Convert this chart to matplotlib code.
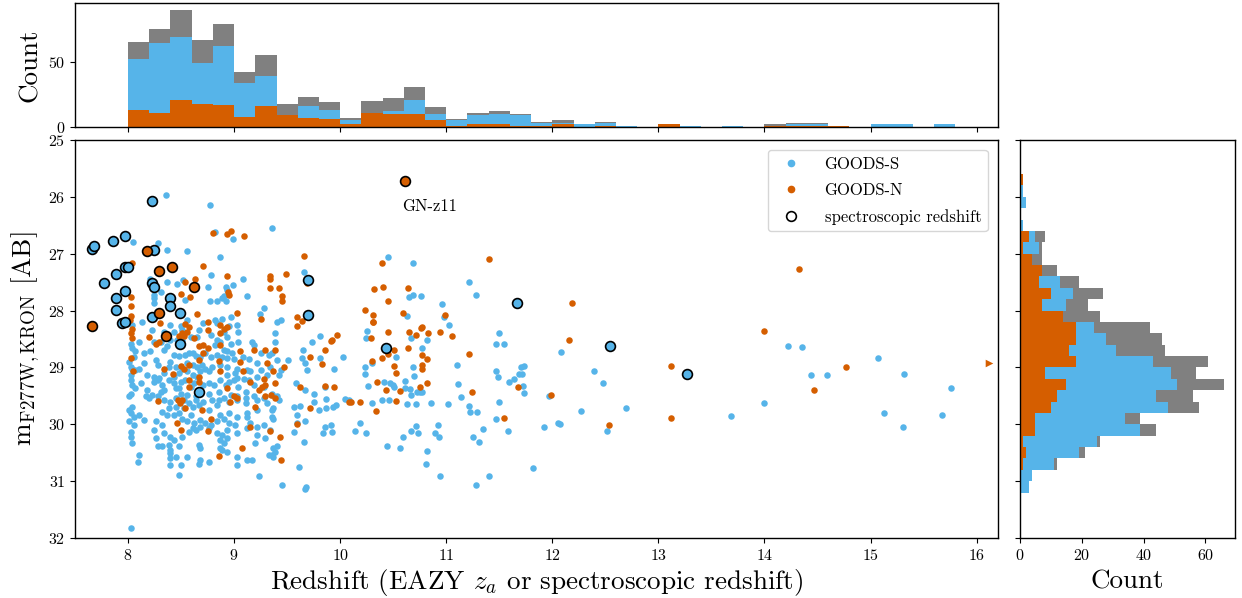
import numpy as np
import matplotlib
matplotlib.use("Agg")
import matplotlib.pyplot as plt
from matplotlib.lines import Line2D

plt.rcParams['font.family'] = 'serif'
plt.rcParams['font.serif'] = ['cmr10']
plt.rcParams['mathtext.fontset'] = 'cm'
plt.rcParams['axes.formatter.use_mathtext'] = True

BLUE = '#56B4E9'
ORANGE = '#D55E00'
GRAY = '#808080'

# photometric GOODS-S candidates (redshift, F277W Kron magnitude)
goods_s = np.array([
    # bright end
    (8.36, 25.97), (8.77, 26.15), (9.36, 26.54), (8.82, 26.62), (8.99, 26.74), (8.05, 26.79),
    (8.28, 26.82), (8.37, 26.93), (8.56, 26.96), (8.87, 27.06), (8.21, 27.44), (8.37, 27.50),
    (8.31, 27.68), (8.46, 27.53), (8.52, 27.46), (8.78, 27.37), (8.75, 27.58), (8.92, 27.58),
    (8.93, 27.64), (8.99, 27.55), (8.90, 27.75), (9.08, 27.45), (9.12, 27.75), (8.89, 27.78),
    (9.66, 27.32), (8.24, 27.78), (8.24, 27.73),
    # z < 10 bulk
    (8.24, 27.87), (8.77, 27.84), (8.84, 27.84), (8.92, 27.84), (9.28, 27.96), (9.24, 28.06),
    (8.54, 27.81), (8.97, 28.11), (8.89, 28.14), (8.82, 28.17), (8.95, 28.27), (9.03, 28.25),
    (9.04, 28.37), (8.90, 28.37), (8.84, 28.22), (8.71, 28.22), (8.56, 28.17), (8.40, 28.25),
    (8.50, 28.27), (8.13, 28.20), (9.40, 28.21), (9.44, 28.17), (8.04, 28.25), (9.39, 28.40),
    (8.23, 28.34), (8.34, 28.37), (8.43, 28.37), (8.51, 28.34), (8.46, 28.51), (8.37, 28.62),
    (8.40, 28.52), (8.51, 28.52), (8.31, 28.55), (8.24, 28.56), (8.10, 28.56), (8.03, 28.58),
    (8.04, 28.66), (8.07, 28.72), (8.59, 28.47), (8.65, 28.46), (8.84, 28.52), (8.93, 28.46),
    (8.97, 28.58), (8.90, 28.69), (8.87, 28.55), (8.82, 28.61), (9.04, 28.55), (9.17, 28.55),
    (9.19, 28.61), (9.39, 28.55), (9.65, 28.69), (9.73, 28.56), (9.81, 28.45), (8.67, 28.34),
    (8.78, 28.43),
    (8.15, 28.75), (8.21, 28.72), (8.34, 28.69), (8.43, 28.78), (8.48, 28.80), (8.54, 28.78),
    (8.57, 28.75), (8.61, 28.74), (8.64, 28.80), (8.68, 28.81), (8.73, 28.75), (8.78, 28.81),
    (8.84, 28.78), (8.89, 28.82), (8.93, 28.84), (9.00, 28.86), (9.08, 28.81), (9.14, 28.86),
    (8.98, 28.75), (8.93, 28.72), (9.25, 28.75), (9.36, 28.75), (9.40, 28.87), (9.51, 28.87),
    (9.64, 28.84), (9.67, 28.93), (9.81, 28.84), (10.03, 28.82), (8.06, 28.81), (8.01, 28.90),
    (8.04, 29.02), (8.26, 28.87), (8.40, 28.90), (9.33, 28.78),
    (8.03, 28.99), (8.07, 29.05), (8.10, 29.02), (8.15, 28.93), (8.28, 28.96), (8.39, 28.99),
    (8.45, 28.99), (8.51, 29.02), (8.56, 28.93), (8.61, 28.96), (8.65, 28.99), (8.70, 28.96),
    (8.73, 29.02), (8.76, 29.07), (8.68, 29.07), (8.79, 28.99), (8.87, 28.96), (8.93, 28.99),
    (9.03, 29.02), (9.12, 29.05), (9.15, 29.07), (9.22, 28.93), (9.25, 29.05), (9.34, 28.99),
    (9.44, 29.05), (9.69, 29.05), (9.94, 29.02), (8.18, 29.13), (8.24, 29.16), (8.29, 29.19),
    (8.34, 29.10), (8.43, 29.16), (8.48, 29.10), (8.56, 29.07), (8.61, 29.13), (8.65, 29.16),
    (8.93, 29.13), (9.01, 29.10), (9.03, 29.19), (9.09, 29.21), (9.14, 29.22), (9.22, 29.16),
    (9.31, 29.13), (9.42, 29.13), (8.03, 29.13),
    (8.03, 29.22), (8.04, 29.31), (8.07, 29.37), (8.12, 29.28), (8.18, 29.40), (8.24, 29.25),
    (8.28, 29.22), (8.32, 29.31), (8.34, 29.40), (8.39, 29.22), (8.43, 29.28), (8.45, 29.37),
    (8.50, 29.25), (8.54, 29.22), (8.59, 29.34), (8.62, 29.28), (8.71, 29.31), (8.76, 29.27),
    (8.81, 29.31), (8.87, 29.22), (8.92, 29.31), (8.95, 29.25), (9.00, 29.22), (9.04, 29.34),
    (9.11, 29.43), (9.19, 29.31), (9.28, 29.34), (9.36, 29.46), (9.40, 29.51), (9.58, 29.28),
    (9.67, 29.40), (9.75, 29.47), (9.86, 29.34), (10.08, 29.57), (8.03, 29.46), (8.01, 29.51),
    (8.17, 29.51), (8.23, 29.48), (8.31, 29.43), (8.48, 29.37), (8.50, 29.46), (8.56, 29.48),
    (8.64, 29.51), (8.76, 29.46), (8.86, 29.43), (8.97, 29.48), (9.03, 29.51), (9.11, 29.53),
    (9.19, 29.51), (9.28, 29.54), (9.36, 29.48),
    (8.20, 29.53), (8.28, 29.51), (8.34, 29.57), (8.40, 29.60), (8.45, 29.54), (8.53, 29.57),
    (8.57, 29.63), (8.64, 29.57), (8.71, 29.60), (8.79, 29.57), (8.86, 29.57), (8.90, 29.54),
    (8.95, 29.60), (9.03, 29.57), (9.11, 29.63), (9.22, 29.57), (9.31, 29.63), (9.37, 29.72),
    (9.42, 29.57), (9.56, 29.69), (9.62, 29.68), (9.75, 29.60), (9.87, 29.56), (9.93, 29.69),
    (9.96, 29.66), (10.05, 29.56), (8.01, 29.75), (8.04, 29.69), (8.32, 29.78), (8.39, 29.72),
    (8.45, 29.69), (8.53, 29.72), (8.61, 29.69), (8.67, 29.66), (8.76, 29.75), (8.84, 29.66),
    (8.87, 29.84), (8.95, 29.81), (9.03, 29.87), (9.12, 29.81), (9.22, 29.75), (9.36, 29.75),
    (9.36, 29.87), (9.59, 29.84), (9.67, 29.95), (9.80, 29.75), (9.87, 29.72),
    (8.03, 29.81), (8.06, 29.87), (8.10, 29.84), (8.15, 29.92), (8.26, 29.95), (8.32, 30.01),
    (8.37, 29.84), (8.43, 29.84), (8.48, 29.81), (8.51, 29.90), (8.56, 29.95), (8.59, 29.84),
    (8.62, 29.98), (8.68, 29.92), (8.73, 29.98), (8.78, 30.01), (8.84, 29.95), (8.90, 29.90),
    (8.95, 29.98), (9.01, 30.01), (9.12, 29.87), (9.15, 29.98), (9.22, 30.04), (9.28, 30.01),
    (9.37, 29.90), (9.59, 29.98), (9.86, 30.04), (9.91, 30.01), (8.06, 30.01), (8.03, 30.13),
    (8.01, 29.95),
    (8.03, 30.22), (8.04, 30.33), (8.24, 30.10), (8.26, 30.25), (8.34, 30.16), (8.40, 30.22),
    (8.43, 30.28), (8.51, 30.22), (8.57, 30.13), (8.61, 30.07), (8.64, 30.10), (8.68, 30.04),
    (8.76, 30.07), (8.84, 30.16), (8.89, 30.19), (8.93, 30.10), (8.93, 30.25), (9.03, 30.16),
    (9.12, 30.07), (9.22, 30.19), (9.29, 30.25), (9.34, 30.10), (9.37, 30.42), (9.56, 30.13),
    (9.66, 30.31), (9.84, 30.16), (9.92, 30.13), (8.28, 30.39), (8.32, 30.39), (8.39, 30.36),
    (8.40, 30.45), (8.48, 30.39), (8.67, 30.36), (8.68, 30.42), (8.87, 30.28), (8.90, 30.33),
    (9.20, 30.33),
    (8.09, 30.66), (8.10, 30.54), (8.40, 30.51), (8.40, 30.60), (8.45, 30.57), (8.56, 30.57),
    (8.68, 30.63), (8.67, 30.69), (8.76, 30.66), (8.89, 30.45), (8.93, 30.48), (9.03, 30.57),
    (9.03, 30.72), (9.12, 30.63), (9.33, 30.54), (9.36, 30.54), (9.39, 30.48), (9.40, 30.39),
    (9.37, 30.57), (9.61, 30.75), (9.17, 30.63), (8.48, 30.89), (8.40, 30.72), (8.50, 30.72),
    (9.23, 30.91), (8.87, 30.42),
    (9.45, 31.07), (9.67, 31.13), (8.03, 31.83), (9.68, 31.11),
    # z > 10
    (10.14, 30.11), (10.19, 29.97), (10.24, 30.16), (10.25, 28.36), (10.24, 28.49), (10.30, 28.92),
    (10.23, 28.99), (10.23, 29.12), (10.26, 29.32), (10.30, 29.63), (10.39, 29.58), (10.41, 29.26),
    (10.47, 29.27), (10.50, 29.31), (10.51, 29.34), (10.46, 29.57), (10.53, 28.81), (10.61, 29.24),
    (10.61, 29.36), (10.66, 29.38), (10.69, 28.99), (10.70, 29.15), (10.67, 29.48), (10.72, 29.43),
    (10.75, 29.43), (10.77, 29.44), (10.63, 29.65), (10.71, 29.64), (10.86, 29.63), (10.77, 28.66),
    (10.82, 28.52), (10.67, 28.48), (10.71, 30.03), (10.67, 30.11), (10.73, 30.15), (10.59, 30.22),
    (10.56, 30.41), (10.44, 30.38), (10.82, 30.47), (10.81, 30.70), (10.89, 30.16), (10.92, 30.02),
    (10.93, 30.23), (10.94, 30.91), (11.03, 28.25), (11.10, 28.96), (11.11, 29.30), (11.14, 29.52),
    (11.02, 29.65), (11.21, 29.68), (11.22, 29.78), (11.29, 29.79), (11.35, 30.08), (11.25, 30.22),
    (11.31, 30.32), (11.28, 31.07), (11.40, 30.91), (11.47, 28.58), (11.50, 28.39), (11.54, 28.58),
    (11.47, 29.07), (11.49, 29.16), (11.50, 29.60), (11.47, 29.91), (11.58, 30.11), (11.59, 29.26),
    (11.64, 29.20), (11.69, 29.12), (11.71, 29.12), (11.70, 29.00), (11.73, 28.98), (11.72, 29.32),
    (11.73, 29.45), (11.82, 30.76), (11.92, 30.05), (11.97, 29.50), (12.05, 29.97), (12.07, 30.00),
    (12.08, 28.73), (12.27, 29.77), (12.39, 29.06), (12.48, 29.28), (12.52, 30.11), (12.69, 29.72),
    (10.45, 27.05), (10.69, 27.16), (11.21, 27.49), (11.28, 27.72), (10.65, 27.77), (10.69, 27.73),
    (10.76, 27.74), (10.96, 27.88), (10.63, 28.10), (10.98, 28.12),
    (13.68, 29.85), (14.00, 29.63), (14.22, 28.62), (14.35, 28.64), (14.44, 29.14), (14.59, 29.14),
    (15.07, 28.83), (15.13, 29.80), (15.32, 29.12), (15.31, 30.04), (15.67, 29.83), (15.76, 29.37),
])

# photometric GOODS-N candidates
goods_n = np.array([
    (8.04, 27.16), (8.03, 27.77), (8.54, 27.49), (8.63, 27.45), (8.71, 27.21), (8.58, 27.76),
    (8.50, 27.71), (8.93, 27.39), (8.94, 27.68), (8.95, 27.73), (8.80, 26.63), (8.93, 26.66),
    (8.97, 26.61), (9.09, 26.69), (9.34, 27.40), (9.34, 27.44), (9.42, 27.60), (9.49, 27.36),
    (9.34, 27.60), (9.45, 27.74), (9.66, 27.04), (9.69, 27.52),
    (8.03, 27.92), (8.65, 28.06), (9.03, 28.05), (9.45, 27.83), (8.03, 28.10), (8.02, 28.17),
    (8.30, 28.22), (8.54, 28.24), (8.57, 28.29), (8.75, 28.21), (8.75, 28.35), (8.87, 28.25),
    (8.93, 28.29), (8.90, 28.33), (8.87, 28.40), (9.25, 28.15), (9.59, 28.12), (9.64, 28.18),
    (9.59, 28.27), (8.04, 28.33), (8.03, 28.40), (9.97, 28.43), (9.91, 28.53), (8.04, 28.49),
    (8.20, 28.46), (8.26, 28.58), (8.29, 28.56), (8.48, 28.45), (8.53, 28.44), (8.62, 28.49),
    (8.67, 28.63), (8.71, 28.61), (8.75, 28.66), (8.87, 28.61), (9.06, 28.72), (9.19, 28.69),
    (9.29, 28.69), (9.39, 28.69), (9.86, 28.69), (9.92, 28.52), (8.51, 28.40), (8.56, 28.37),
    (8.03, 28.84), (8.71, 28.75), (8.67, 28.87), (8.86, 28.88), (9.06, 28.90), (9.31, 28.93),
    (9.72, 28.81), (9.83, 28.94), (8.05, 29.07), (8.34, 29.03), (8.42, 29.12), (8.50, 28.97),
    (8.53, 29.02), (8.57, 28.96), (8.67, 29.16), (8.87, 29.07), (9.08, 29.07), (9.15, 29.25),
    (9.37, 29.06), (9.47, 29.00), (9.28, 29.21), (9.39, 29.28), (8.57, 29.22), (8.67, 29.25),
    (8.57, 29.35), (8.93, 29.37), (9.23, 29.39), (9.26, 29.35), (9.29, 29.31), (9.62, 29.34),
    (9.86, 29.33), (9.94, 29.35), (9.29, 29.50), (9.35, 29.48), (9.39, 29.54), (8.28, 29.59),
    (8.47, 29.57), (8.51, 29.57), (8.49, 29.62), (8.54, 29.72), (8.70, 29.75), (8.96, 29.60),
    (9.00, 29.51), (9.03, 29.53), (9.20, 29.70), (9.72, 29.72), (10.08, 29.60), (8.46, 29.98),
    (8.78, 29.91), (9.15, 30.04), (9.59, 29.99), (8.50, 30.10), (8.75, 30.11), (9.34, 30.11),
    (9.43, 30.23), (9.07, 30.42), (8.86, 30.56), (9.44, 30.62),
    (10.31, 28.21), (10.45, 28.38), (10.65, 28.38), (10.71, 28.43), (10.76, 28.30), (10.83, 28.40),
    (10.94, 28.37), (11.05, 28.45), (10.10, 29.60), (10.19, 29.61), (10.34, 29.77), (10.29, 28.48),
    (10.39, 28.83), (10.30, 28.88), (10.45, 28.77), (10.51, 28.69), (10.64, 28.66), (10.77, 28.78),
    (10.82, 28.86), (10.77, 28.96), (10.77, 29.03), (10.51, 28.97), (10.53, 29.09), (10.35, 29.25),
    (10.43, 29.40), (10.56, 29.41), (10.53, 29.59), (10.75, 29.34), (10.82, 29.27), (11.21, 28.77),
    (11.24, 29.44), (11.54, 29.89), (11.68, 29.34), (11.99, 29.49), (12.16, 28.52), (12.53, 30.01),
    (10.39, 27.16), (11.40, 27.10), (10.32, 27.63), (10.40, 27.59), (10.64, 27.61), (10.45, 27.84),
    (10.23, 27.99), (10.31, 28.08), (10.31, 28.20), (10.59, 28.04), (10.99, 28.08), (10.77, 28.29),
    (12.19, 27.87),
    (13.12, 28.97), (13.12, 29.89), (14.00, 28.36), (14.47, 29.40), (14.77, 29.00), (14.33, 27.27),
    (16.60, 28.92),
])

# objects with spectroscopic redshifts
spec_s = np.array([
    (8.23, 26.08), (7.66, 26.92), (7.68, 26.86), (7.86, 26.78), (7.97, 26.69), (8.24, 26.93),
    (7.77, 27.51), (7.89, 27.36), (7.97, 27.24), (8.00, 27.24), (7.97, 27.66), (7.89, 27.78),
    (7.89, 27.99), (7.94, 28.22), (7.97, 28.21), (8.23, 27.52), (8.24, 27.58), (8.40, 27.78),
    (8.40, 27.92), (8.49, 28.04), (8.23, 28.12), (9.70, 27.46), (9.70, 28.08), (8.49, 28.58),
    (8.67, 29.43), (10.43, 28.66), (12.54, 28.63), (11.67, 27.87), (13.27, 29.12),
])
spec_n = np.array([
    (8.18, 26.96), (8.29, 27.31), (8.41, 27.24), (8.62, 27.58), (8.29, 28.04), (7.66, 28.27),
    (8.36, 28.44), (10.61, 25.72),
])

# redshift histogram (bins of 0.2 from z=8)
z_edges = np.round(np.arange(8.0, 16.01, 0.2), 1)
z_all = [65, 75, 90, 67, 79, 42, 55, 18, 23, 19, 7, 20, 22, 31, 15, 6, 11, 12, 10, 4,
         5, 2, 4, 1, 0, 2, 1, 0, 1, 0, 2, 3, 3, 1, 0, 2, 2, 0, 2, 0]
z_s = [52, 64, 69, 49, 62, 34, 39, 9, 16, 13, 5, 9, 12, 21, 10, 5, 9, 10, 9, 3,
       3, 2, 3, 1, 0, 0, 1, 0, 1, 0, 1, 2, 2, 0, 0, 2, 2, 0, 2, 0]
z_n = [13, 11, 21, 18, 17, 8, 16, 9, 7, 6, 2, 11, 10, 10, 5, 1, 2, 2, 1, 1,
       2, 0, 1, 0, 0, 2, 0, 0, 0, 0, 1, 1, 1, 1, 0, 0, 0, 0, 0, 0]

# magnitude histogram (bins of 0.2 from m=25.6)
m_edges = np.round(np.arange(25.6, 31.21, 0.2), 1)
m_all = [1, 1, 2, 0, 1, 8, 7, 7, 12, 19, 27, 22, 26, 42, 46, 47, 61, 57, 66, 56, 58, 39, 44, 26, 21, 12, 4, 3]
m_s = [0, 1, 2, 0, 1, 5, 6, 3, 5, 13, 17, 15, 12, 24, 28, 31, 43, 49, 51, 44, 48, 34, 39, 25, 19, 11, 4, 3]
m_n = [1, 0, 0, 0, 0, 3, 1, 4, 7, 6, 10, 7, 14, 18, 18, 16, 18, 8, 15, 12, 10, 5, 5, 1, 2, 1, 0, 0]

zmin, zmax = 7.5, 16.2

fig = plt.figure(figsize=(12.42, 5.98), dpi=100)
ax = fig.add_axes([0.0604, 0.1003, 0.743, 0.6657])
ax_top = fig.add_axes([0.0604, 0.7876, 0.743, 0.2074], sharex=ax)
ax_right = fig.add_axes([0.8213, 0.1003, 0.1727, 0.6657], sharey=ax)

ax.scatter(goods_s[:, 0], goods_s[:, 1], s=22, color=BLUE, linewidths=0, zorder=2)
inside = goods_n[:, 0] <= zmax
ax.scatter(goods_n[inside, 0], goods_n[inside, 1], s=22, color=ORANGE, linewidths=0, zorder=3)
# objects beyond the plotted range are shown as arrows at the edge
ax.scatter(np.full((~inside).sum(), zmax - 0.08), goods_n[~inside, 1], s=30, marker='>',
           color=ORANGE, linewidths=0, zorder=3)
ax.scatter(spec_s[:, 0], spec_s[:, 1], s=50, color=BLUE, edgecolors='k', linewidths=1.2, zorder=4)
ax.scatter(spec_n[:, 0], spec_n[:, 1], s=50, color=ORANGE, edgecolors='k', linewidths=1.2, zorder=4)

gn = spec_n[np.argmin(spec_n[:, 1])]
ax.annotate('GN-z11', xy=(gn[0], gn[1]), xytext=(-2, -13), textcoords='offset points',
            ha='left', va='top', fontsize=12)

handles = [
    Line2D([], [], ls='', marker='o', ms=4.5, mfc=BLUE, mec=BLUE, label='GOODS-S'),
    Line2D([], [], ls='', marker='o', ms=4.5, mfc=ORANGE, mec=ORANGE, label='GOODS-N'),
    Line2D([], [], ls='', marker='o', ms=7, mfc='none', mec='k', mew=1.2, label='spectroscopic redshift'),
]
ax.legend(handles=handles, loc='upper right', fontsize=12, handletextpad=1.0,
          borderaxespad=0.6, labelspacing=0.65)

ax.set_xlim(zmin, zmax)
ax.set_ylim(32, 25)
ax.set_xticks(np.arange(8, 17, 1))
ax.set_yticks(np.arange(25, 33, 1))
ax.tick_params(labelsize=11.5)
ax.set_xlabel(r'Redshift (EAZY $z_a$ or spectroscopic redshift)', fontsize=19.5, labelpad=3)
ax.set_ylabel(r'$\mathrm{m_{F277W,KRON}}$ [AB]', fontsize=19.5)

ax_top.stairs(z_all, z_edges, fill=True, color=GRAY)
ax_top.stairs(z_s, z_edges, fill=True, color=BLUE)
ax_top.stairs(z_n, z_edges, fill=True, color=ORANGE)
ax_top.set_ylim(0, 95)
ax_top.set_yticks([0, 50])
ax_top.tick_params(labelbottom=False, labelsize=11.5)
ax_top.set_ylabel('Count', fontsize=19.5)

ax_right.stairs(m_all, m_edges, fill=True, color=GRAY, orientation='horizontal')
ax_right.stairs(m_s, m_edges, fill=True, color=BLUE, orientation='horizontal')
ax_right.stairs(m_n, m_edges, fill=True, color=ORANGE, orientation='horizontal')
ax_right.set_xlim(0, 69.5)
ax_right.set_xticks([0, 20, 40, 60])
ax_right.tick_params(labelleft=False, labelsize=11.5)
ax_right.set_xlabel('Count', fontsize=19.5, labelpad=5)

for a in (ax, ax_top, ax_right):
    for sp in a.spines.values():
        sp.set_linewidth(1.0)

fig.savefig('out.png', dpi=100)
